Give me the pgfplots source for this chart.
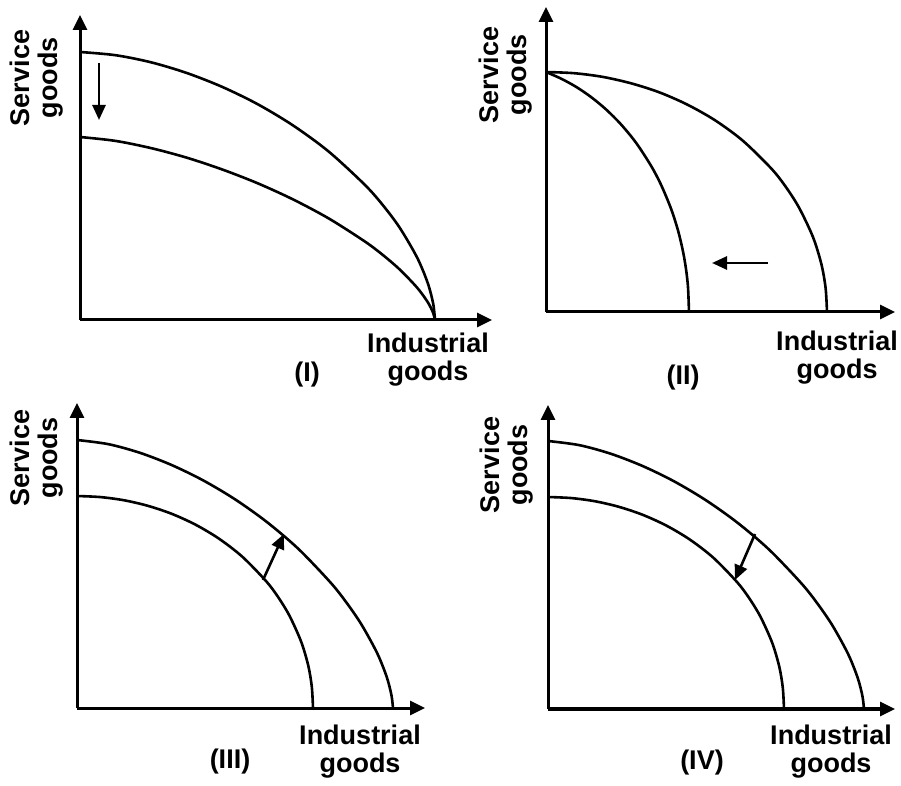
\documentclass[border=0pt]{standalone}
\usepackage{pgfplots}
\pgfplotsset{compat=1.18}
\usepackage{pgfplotstable}
\usepackage{fontspec}
\setmainfont{Liberation Sans}
\usetikzlibrary{arrows.meta}

% Panel I (units: pixels of the reference, origin at the axes' corner)
\pgfplotstableread{
x y
0 268
35.5 264.8
71 257.7
106.5 247.1
142 233.2
177.5 215.9
213 194.6
248.5 168.6
284 136.0
301.75 116.2
319.5 92.6
337.25 62.2
347.9 36.5
353.2 16.2
355 0
}\outerI
\pgfplotstableread{
x y
0 183
35.5 179.1
71 171.9
106.5 162.4
142 150.6
177.5 136.8
213 120.6
248.5 101.7
284 79.1
301.75 65.9
319.5 50.7
337.25 32.2
347.9 17.6
353.2 7.0
355 0
}\innerI
% Panel II
\pgfplotstableread{
x y
0 240
28.1 238.8
56.2 235.2
84.3 228.9
112.4 220.0
140.5 207.8
168.6 192.0
196.7 171.4
224.8 144.0
238.9 126.4
252.9 104.6
267.0 74.9
275.4 47.8
279.6 24.0
281 0
}\outerII
\pgfplotstableread{
x y
0 240
15 233.4
30 225.2
45 215.0
60 202.6
75 187.6
90 169.3
105 146.3
115 127.3
125 103.4
132 81.6
137 60.6
140 43.0
142 24.9
143 0
}\innerII
% Panels III and IV
\pgfplotstableread{
x y
0 268
31.6 263.8
63.2 255.1
94.8 242.9
126.4 227.5
158 208.7
189.6 186.2
221.2 159.3
252.8 126.3
268.6 106.6
284.4 83.6
300.2 54.8
309.7 31.1
314.4 13.1
316 0
}\outerIII
\pgfplotstableread{
x y
0 212
23.6 210.9
47.2 207.7
70.8 202.2
94.4 194.3
118 183.6
141.6 169.6
165.2 151.4
188.8 127.2
200.6 111.7
212.4 92.4
224.2 66.2
231.3 42.2
234.8 21.2
236 0
}\innerIII

\pgfplotsset{
  ppf/.style={
    anchor=south west, x=0.5pt, y=0.5pt,
    xmin=0, ymin=0,
    axis lines=left,
    axis line style={line width=1.5pt, -{Triangle[length=7.5pt,width=7pt]}},
    ticks=none, clip=false,
  },
  curve/.style={black, line width=1.3pt, smooth, no markers},
  shift/.style={black, line width=1.3pt, no markers, -{Triangle[length=7.5pt,width=6.5pt]}},
}
\newcommand\lab{\bfseries\fontsize{13.5}{14}\selectfont}

\begin{document}
\begin{tikzpicture}
\path[use as bounding box] (0pt,0pt) rectangle (450.5pt,-393pt);

% (I)
\begin{axis}[ppf, at={(40pt,-160pt)}, xmax=412, ymax=305]
\addplot[curve] table {\outerI};
\addplot[curve] table {\innerI};
\addplot[shift] coordinates {(19,257) (19,200)};
\end{axis}

% (II)
\begin{axis}[ppf, at={(273pt,-156pt)}, xmax=349, ymax=305]
\addplot[curve] table {\outerII};
\addplot[curve] table {\innerII};
\addplot[shift] coordinates {(222,49) (166,49)};
\end{axis}

% (III)
\begin{axis}[ppf, at={(38.5pt,-354pt)}, xmax=348, ymax=305]
\addplot[curve] table {\outerIII};
\addplot[curve] table {\innerIII};
\addplot[shift] coordinates {(186,128) (207,174)};
\end{axis}

% (IV)
\begin{axis}[ppf, at={(274pt,-354.5pt)}, xmax=347, ymax=304]
\addplot[curve] table {\outerIII};
\addplot[curve] table {\innerIII};
\addplot[shift] coordinates {(207,175) (187,129)};
\end{axis}

\tikzset{lbl/.style={inner sep=0pt, align=center, font=\lab}}
\node[lbl, rotate=90] at (18.5pt,-39pt) {Service\\goods};
\node[lbl] at (214pt,-180pt) {Industrial\\goods};
\node[lbl] at (153.5pt,-187.5pt) {(I)};

\node[lbl, rotate=90] at (253pt,-37.5pt) {Service\\goods};
\node[lbl] at (418.5pt,-179pt) {Industrial\\goods};
\node[lbl] at (341.5pt,-189pt) {(II)};

\node[lbl, rotate=90] at (18.5pt,-229pt) {Service\\goods};
\node[lbl] at (180pt,-376pt) {Industrial\\goods};
\node[lbl] at (115pt,-381pt) {(III)};

\node[lbl, rotate=90] at (253.5pt,-232.5pt) {Service\\goods};
\node[lbl] at (415.5pt,-376pt) {Industrial\\goods};
\node[lbl] at (351pt,-381.5pt) {(IV)};
\end{tikzpicture}
\end{document}
